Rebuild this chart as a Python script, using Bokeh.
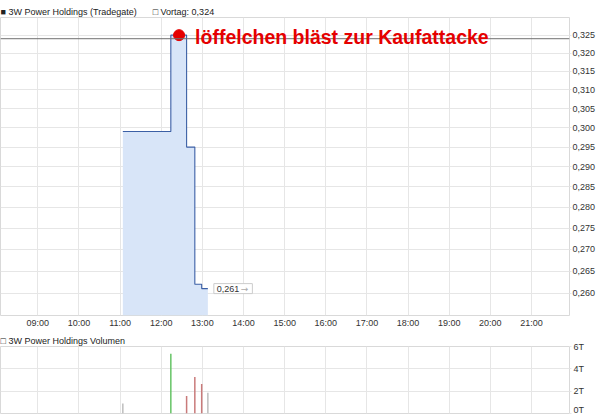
from bokeh.plotting import figure
from bokeh.models import ColumnDataSource, Range1d, FixedTicker, CustomJSTickFormatter, Span, Label
from bokeh.layouts import column
from bokeh.embed import file_html
from bokeh.resources import INLINE

# intraday trades
trade_times = ["11:04", "12:14", "12:37", "12:49", "12:59", "13:08"]
trade_prices = [0.299, 0.325, 0.295, 0.262, 0.261, 0.261]
trade_volumes = [900, 5350, 1560, 3270, 2640, 1860]
prev_close = 0.324

hour_labels = ["09:00", "10:00", "11:00", "12:00", "13:00", "14:00", "15:00",
               "16:00", "17:00", "18:00", "19:00", "20:00", "21:00"]
price_labels = ["0,260", "0,265", "0,270", "0,275", "0,280", "0,285", "0,290",
                "0,295", "0,300", "0,305", "0,310", "0,315", "0,320", "0,325"]
volume_labels = ["0T", "2T", "4T", "6T"]

stock_name = "3W Power Holdings"
exchange = "Tradegate"
note_text = "löffelchen bläst zur Kaufattacke"
note_time = "12:26"

FONT = "Liberation Sans"
GRID = "#e6e6e6"
TEXT = "#333333"


def to_hours(t):
    h, m = t.split(":")
    return int(h) + int(m) / 60


def comma(v):
    return f"{v:.3f}".replace(".", ",")


def style_title(fig, text):
    fig.title.text = text
    fig.title.align = "left"
    fig.title.offset = 0
    fig.title.standoff = 2
    fig.title.text_font = FONT
    fig.title.text_font_size = "9px"
    fig.title.text_font_style = "normal"
    fig.title.text_color = "#222222"


def style_right_axis(ax):
    ax.axis_line_color = None
    ax.major_tick_in = 0
    ax.major_tick_out = 2
    ax.major_tick_line_color = GRID
    ax.minor_tick_line_color = None
    ax.major_label_text_font = FONT
    ax.major_label_text_font_size = "9px"
    ax.major_label_text_color = TEXT


t = [to_hours(s) for s in trade_times]
hour_ticks = [to_hours(s) for s in hour_labels]
price_ticks = [float(s.replace(",", ".")) for s in price_labels]
volume_ticks = [int(s[:-1]) * 1000 for s in volume_labels]

bar_colors = []
for i, price in enumerate(trade_prices):
    if i == 0 or price == trade_prices[i - 1]:
        bar_colors.append("#bdbdbd")
    elif price > trade_prices[i - 1]:
        bar_colors.append("#66c466")
    else:
        bar_colors.append("#c97a7a")

y_floor = 0.255
x_range = Range1d(8.093, 21.924)

src = ColumnDataSource(dict(t=t, price=trade_prices, floor=[y_floor] * len(t),
                            vol=trade_volumes, color=bar_colors))

# price panel
p = figure(frame_width=569, frame_height=298, min_border_left=0, min_border_right=31,
           min_border_top=17, min_border_bottom=16, x_range=x_range,
           y_range=Range1d(y_floor, 0.33), y_axis_type="log", y_axis_location="right",
           output_backend="svg", toolbar_location=None)
p.outline_line_color = "#d9d9d9"
p.xgrid.grid_line_color = GRID
p.ygrid.grid_line_color = GRID
style_title(p, f"■ {stock_name} ({exchange})\u2003\u2002 □ Vortag: {comma(prev_close)}")

p.xaxis.ticker = FixedTicker(ticks=hour_ticks)
p.xaxis.major_label_overrides = {h: s for h, s in zip(hour_ticks, hour_labels)}
p.xaxis.axis_line_color = None
p.xaxis.major_tick_in = 0
p.xaxis.major_tick_out = 0
p.xaxis.minor_tick_line_color = None
p.xaxis.major_label_standoff = 2
p.xaxis.major_label_text_font = FONT
p.xaxis.major_label_text_font_size = "9px"
p.xaxis.major_label_text_color = TEXT

p.yaxis.ticker = FixedTicker(ticks=price_ticks)
p.yaxis.formatter = CustomJSTickFormatter(code="return tick.toFixed(3).replace('.', ',')")
style_right_axis(p.yaxis[0])
p.yaxis.major_label_standoff = 1

p.varea_step(x="t", y1="floor", y2="price", step_mode="after", fill_color="#d8e5f8", source=src)
p.step(x="t", y="price", mode="after", line_color="#3b5fa5", line_width=1.1, source=src)
p.add_layout(Span(location=prev_close, dimension="width", line_color="#707070", line_width=1))

peak = max(trade_prices)
note_x = to_hours(note_time)
p.scatter(x=[note_x], y=[peak], size=11, color="#e50000")
p.add_layout(Label(x=note_x, y=peak, x_offset=16, y_offset=-2, text=note_text,
                   text_font=FONT, text_font_style="bold", text_font_size="19.5px",
                   text_color="#e50000", text_baseline="alphabetic"))

p.add_layout(Label(x=t[-1], y=trade_prices[-1], x_offset=6, text=comma(trade_prices[-1]),
                   text_font=FONT, text_font_size="9px", text_color=TEXT,
                   text_baseline="middle", border_line_color="#cccccc",
                   background_fill_color="white",
                   padding=dict(left=3, right=13, top=2, bottom=2)))
p.add_layout(Label(x=t[-1], y=trade_prices[-1], x_offset=33, text="→",
                   text_font="DejaVu Sans", text_font_size="9px", text_color="#aaaaaa",
                   text_baseline="middle"))

# volume panel
v = figure(frame_width=569, frame_height=67, min_border_left=0, min_border_right=31,
           min_border_top=15, min_border_bottom=1, x_range=x_range,
           y_range=Range1d(0, 6000), x_axis_location=None, y_axis_location="right",
           output_backend="svg", toolbar_location=None)
v.outline_line_color = "#d9d9d9"
v.xgrid.ticker = FixedTicker(ticks=hour_ticks)
v.xgrid.grid_line_color = GRID
v.ygrid.grid_line_color = GRID
style_title(v, f"□ {stock_name} Volumen")
v.yaxis.ticker = FixedTicker(ticks=volume_ticks)
v.yaxis.major_label_overrides = {n: s for n, s in zip(volume_ticks, volume_labels)}
style_right_axis(v.yaxis[0])
v.yaxis.major_label_standoff = 2

v.segment(x0="t", y0=0, x1="t", y1="vol", line_color="color", line_width=1.5, source=src)

layout = column(p, v)
open("out.html", "w").write(file_html(layout, INLINE))
